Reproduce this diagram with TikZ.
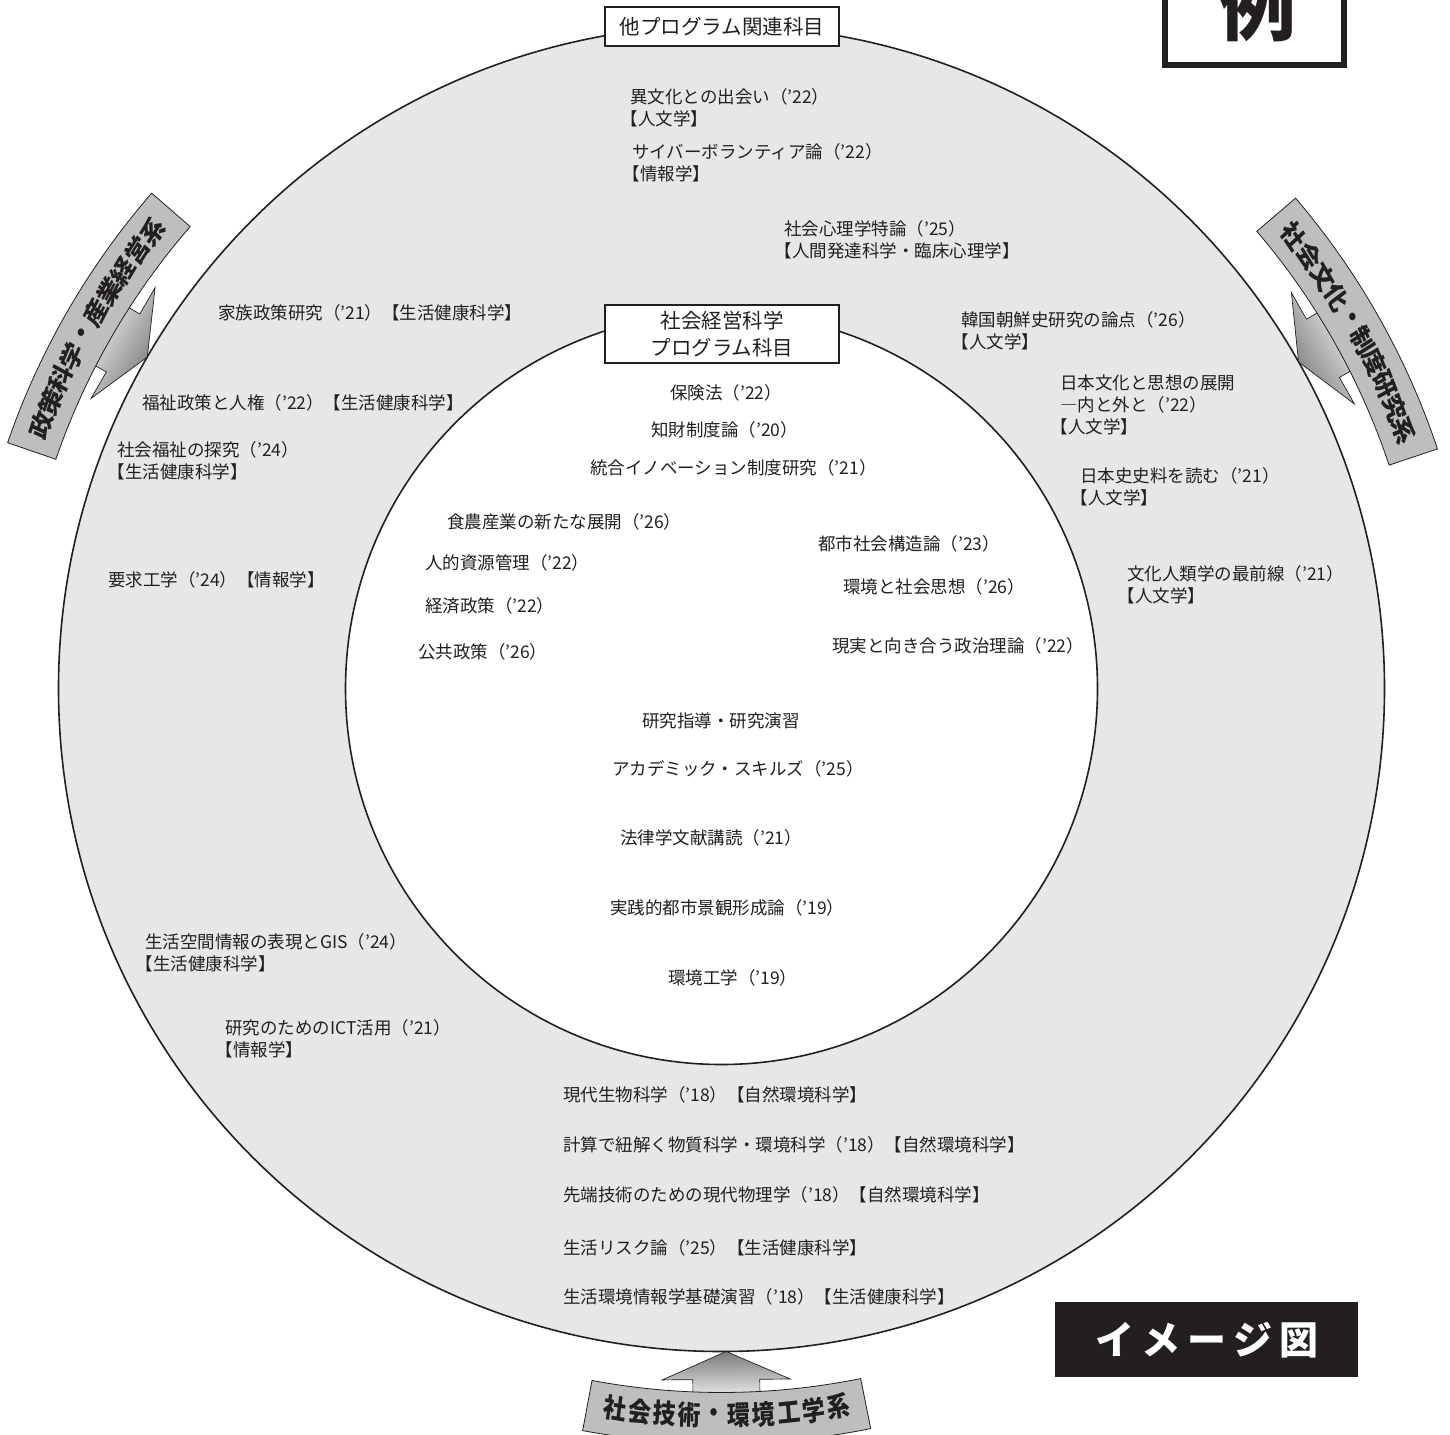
\documentclass[tikz,border=0pt]{standalone}
\usepackage{fontspec}
\setmainfont{Noto Sans CJK JP}
\usetikzlibrary{calc}
\definecolor{ring}{HTML}{E6E7E8}
\definecolor{band}{HTML}{BCBEC0}
\definecolor{adark}{HTML}{7A7A7A}
\definecolor{alight}{HTML}{F4F4F4}
\definecolor{ink}{HTML}{231F20}
\tikzset{
  lbl/.style={anchor=west, inner sep=0pt, align=left, text=ink,
    font=\fontsize{17.5}{22.3}\selectfont},
  titlebox/.style={draw=ink, fill=white, line width=2pt, align=center, text=ink,
    minimum width=234pt, inner sep=0pt, font=\fontsize{20.5}{27}\selectfont},
  bandchar/.style={inner sep=0pt, text=ink, xscale=0.9, yscale=1.06,
    font=\bfseries\fontsize{25.5}{25.5}\selectfont},
  bandshape/.style={fill=band, draw=ink, line width=0.8pt},
  arrowshape/.style={draw=ink, line width=0.7pt, shading=axis,
    top color=alight, bottom color=adark}
}
\begin{document}
\begin{tikzpicture}[x=1pt, y=1pt]
\useasboundingbox (0,0) rectangle (1450,-1434);
\coordinate (C) at (721.5,-688.5);

% rings
\draw[fill=ring, draw=ink, line width=1.6pt] (C) circle[radius=663];
\draw[fill=white, draw=ink, line width=1.6pt] (C) circle[radius=376];

% arrows and bands
\foreach \th in {150, 29.5, 270.4}{
  \begin{scope}[shift={(C)}, rotate=\th]
    \shadedraw[arrowshape, shading angle=\th-90]
      (663,0) -- (691,64) -- (691,33.5) -- (712,33.5) -- (712,-33.5)
      -- (691,-33.5) -- (691,-64) -- cycle;
  \end{scope}
  \begin{scope}[shift={(C)}]
    \draw[bandshape] (\th-11:704) arc[start angle=\th-11, end angle=\th+11, radius=704]
      -- (\th+11:755) arc[start angle=\th+11, end angle=\th-11, radius=755] -- cycle;
  \end{scope}
}
% band texts
\foreach \c [count=\i from 0, evaluate=\i as \a using 150+(4.5-\i)*1.96] in {政,策,科,学,・,産,業,経,営,系}
  \node[bandchar, rotate=\a-90] (lb\i) at ($(C)+(\a:729.5)$) {\c};
\foreach \c [count=\i from 0, evaluate=\i as \a using 29.5+(4.5-\i)*1.96] in {社,会,文,化,・,制,度,研,究,系}
  \node[bandchar, rotate=\a-90] (rb\i) at ($(C)+(\a:729.5)$) {\c};
\foreach \c [count=\i from 0, evaluate=\i as \a using 270.4+(\i-4.5)*1.96] in {社,会,技,術,・,環,境,工,学,系}
  \node[bandchar, rotate=\a+90] (bb\i) at ($(C)+(\a:727.5)$) {\c};

% title boxes
\node[titlebox, minimum height=39pt] (top) at (722,-26.5) {他プログラム関連科目};
\node[titlebox, minimum height=58pt] (mid) at (722,-334) {社会経営科学\\プログラム科目};

% corner marks
\draw[ink, line width=6pt, fill=white] (1165,30) rectangle (1344,-65);
\node[inner sep=0pt, text=ink, font=\bfseries\fontsize{78}{78}\selectfont] (rei) at (1257,-5) {例};
\fill[ink] (1055,-1302) rectangle (1358,-1377);
\node[inner sep=0pt, text=white, font=\bfseries\fontsize{39}{39}\selectfont] (img) at (1207,-1340)
  {イ\hspace{7pt}メ\hspace{7pt}ー\hspace{7pt}ジ\hspace{7pt}図};

% outer ring texts
\node[lbl] (n1) at (630,-107.5) {異文化との出会い（'22）\\\hspace*{-.55em}【人文学】};
\node[lbl] (n2) at (632,-163) {サイバーボランティア論（'22）\\\hspace*{-.55em}【情報学】};
\node[lbl] (n3) at (784,-240) {社会心理学特論（'25）\\\hspace*{-.55em}【人間発達科学・臨床心理学】};
\node[lbl] (n4) at (218,-313) {家族政策研究（'21）【生活健康科学】};
\node[lbl] (n5) at (961,-331) {韓国朝鮮史研究の論点（'26）\\\hspace*{-.55em}【人文学】};
\node[lbl] (n6) at (1060,-405) {日本文化と思想の展開\\―内と外と（'22）\\\hspace*{-.55em}【人文学】};
\node[lbl] (n7) at (142,-403) {福祉政策と人権（'22）【生活健康科学】};
\node[lbl] (n8) at (117,-461) {社会福祉の探究（'24）\\\hspace*{-.55em}【生活健康科学】};
\node[lbl] (n9) at (1080,-487) {日本史史料を読む（'21）\\\hspace*{-.55em}【人文学】};
\node[lbl] (n10) at (108,-580) {要求工学（'24）【情報学】};
\node[lbl] (n11) at (1127,-585) {文化人類学の最前線（'21）\\\hspace*{-.55em}【人文学】};

% inner texts
\node[lbl] (i1) at (670,-393) {保険法（'22）};
\node[lbl] (i2) at (651,-430) {知財制度論（'20）};
\node[lbl] (i3) at (590,-468) {統合イノベーション制度研究（'21）};
\node[lbl] (i4) at (447,-522) {食農産業の新たな展開（'26）};
\node[lbl] (i5) at (818,-544) {都市社会構造論（'23）};
\node[lbl] (i6) at (425,-563) {人的資源管理（'22）};
\node[lbl] (i7) at (843,-587) {環境と社会思想（'26）};
\node[lbl] (i8) at (425,-606) {経済政策（'22）};
\node[lbl] (i9) at (418,-652) {公共政策（'26）};
\node[lbl] (i10) at (832,-646) {現実と向き合う政治理論（'22）};
\node[lbl] (i11) at (642,-721) {研究指導・研究演習};
\node[lbl] (i12) at (612,-769) {アカデミック・スキルズ（'25）};
\node[lbl] (i13) at (620,-838) {法律学文献講読（'21）};
\node[lbl] (i14) at (610,-908) {実践的都市景観形成論（'19）};
\node[lbl] (i15) at (668,-978) {環境工学（'19）};

% lower outer texts
\node[lbl] (b1) at (145,-953) {生活空間情報の表現とGIS（'24）\\\hspace*{-.55em}【生活健康科学】};
\node[lbl] (b2) at (225,-1039) {研究のためのICT活用（'21）\\\hspace*{-.55em}【情報学】};
\node[lbl] (b3) at (563,-1095) {現代生物科学（'18）【自然環境科学】};
\node[lbl] (b4) at (563,-1145) {計算で紐解く物質科学・環境科学（'18）【自然環境科学】};
\node[lbl] (b5) at (563,-1195) {先端技術のための現代物理学（'18）【自然環境科学】};
\node[lbl] (b6) at (563,-1248) {生活リスク論（'25）【生活健康科学】};
\node[lbl] (b7) at (563,-1297) {生活環境情報学基礎演習（'18）【生活健康科学】};
\end{tikzpicture}
\end{document}
